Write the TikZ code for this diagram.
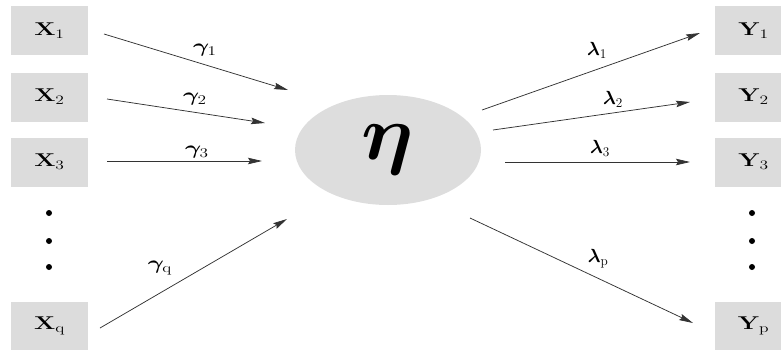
\RequirePackage{fix-cm}
\documentclass[tikz,border=0pt]{standalone}
\usepackage{bm}
\usetikzlibrary{arrows.meta,shapes.geometric}
\definecolor{boxgray}{HTML}{DCDCDC}
\definecolor{ellgray}{HTML}{DDDDDD}
\definecolor{linegray}{HTML}{333333}
\begin{document}
\begin{tikzpicture}[x=1pt,y=-1pt,
  varbox/.style={fill=boxgray, minimum width=77pt, minimum height=49pt, inner sep=0pt,
                 font=\fontsize{18.5}{18.5}\selectfont},
  latent/.style={ellipse, fill=ellgray, minimum width=186pt, minimum height=110pt, inner sep=0pt,
                 font=\fontsize{78}{78}\selectfont},
  coef/.style={inner sep=0pt, font=\fontsize{19}{19}\selectfont},
  dotmark/.style={circle, fill=black, minimum size=6pt, inner sep=0pt},
  arr/.style={draw=linegray, line width=0.75pt, -{Stealth[length=14pt,width=6.5pt,inset=2pt]}}]
\useasboundingbox (0,0) rectangle (781,349);
% observed X
\node[varbox] (X1) at (49.5,30.5) {\scalebox{1.35}[1]{$\mathbf{X}_{\mathrm{1}}$}};
\node[varbox] (X2) at (49.5,97) {\scalebox{1.35}[1]{$\mathbf{X}_{\mathrm{2}}$}};
\node[varbox] (X3) at (49.5,162) {\scalebox{1.35}[1]{$\mathbf{X}_{\mathrm{3}}$}};
\node[varbox] (Xq) at (49.5,326) {\scalebox{1.35}[1]{$\mathbf{X}_{\mathrm{q}}$}};
\node[dotmark] (xd1) at (49,213) {};
\node[dotmark] (xd2) at (49,241) {};
\node[dotmark] (xd3) at (49,267) {};
% observed Y
\node[varbox] (Y1) at (753.5,30.5) {\scalebox{1.35}[1]{$\mathbf{Y}_{\mathrm{1}}$}};
\node[varbox] (Y2) at (753.5,97) {\scalebox{1.35}[1]{$\mathbf{Y}_{\mathrm{2}}$}};
\node[varbox] (Y3) at (753.5,162) {\scalebox{1.35}[1]{$\mathbf{Y}_{\mathrm{3}}$}};
\node[varbox] (Yp) at (753.5,326) {\scalebox{1.35}[1]{$\mathbf{Y}_{\mathrm{p}}$}};
\node[dotmark] (yd1) at (752,213) {};
\node[dotmark] (yd2) at (752,241) {};
\node[dotmark] (yd3) at (752,267) {};
% latent
\node[latent] (eta) at (388,150) {\scalebox{1.05}[1]{$\bm{\eta}$}};
% arrow ends
\coordinate (g1s) at (104,34);  \coordinate (g1e) at (288,90);
\coordinate (g2s) at (107,99);  \coordinate (g2e) at (265,123);
\coordinate (g3s) at (107,161); \coordinate (g3e) at (262,161);
\coordinate (gqs) at (100,328); \coordinate (gqe) at (287,219);
\coordinate (l1s) at (482,110); \coordinate (l1e) at (700,33);
\coordinate (l2s) at (493,130); \coordinate (l2e) at (690,102);
\coordinate (l3s) at (505,162); \coordinate (l3e) at (690,162);
\coordinate (lps) at (470,218); \coordinate (lpe) at (693,323);
\draw[arr] (g1s) -- (g1e);
\draw[arr] (g2s) -- (g2e);
\draw[arr] (g3s) -- (g3e);
\draw[arr] (gqs) -- (gqe);
\draw[arr] (l1s) -- (l1e);
\draw[arr] (l2s) -- (l2e);
\draw[arr] (l3s) -- (l3e);
\draw[arr] (lps) -- (lpe);
% labels
\node[coef] (tg1) at (205,50) {\scalebox{1.3}[1]{$\bm{\gamma}_{\mathrm{1}}$}};
\node[coef] (tg2) at (195,99) {\scalebox{1.3}[1]{$\bm{\gamma}_{\mathrm{2}}$}};
\node[coef] (tg3) at (197,152) {\scalebox{1.3}[1]{$\bm{\gamma}_{\mathrm{3}}$}};
\node[coef] (tgq) at (160,268) {\scalebox{1.3}[1]{$\bm{\gamma}_{\mathrm{q}}$}};
\node[coef] (tl1) at (597,50) {$\bm{\lambda}_{\mathrm{1}}$};
\node[coef] (tl2) at (613,99) {$\bm{\lambda}_{\mathrm{2}}$};
\node[coef] (tl3) at (600,148) {$\bm{\lambda}_{\mathrm{3}}$};
\node[coef] (tlp) at (598,259) {$\bm{\lambda}_{\mathrm{p}}$};
\end{tikzpicture}
\end{document}
